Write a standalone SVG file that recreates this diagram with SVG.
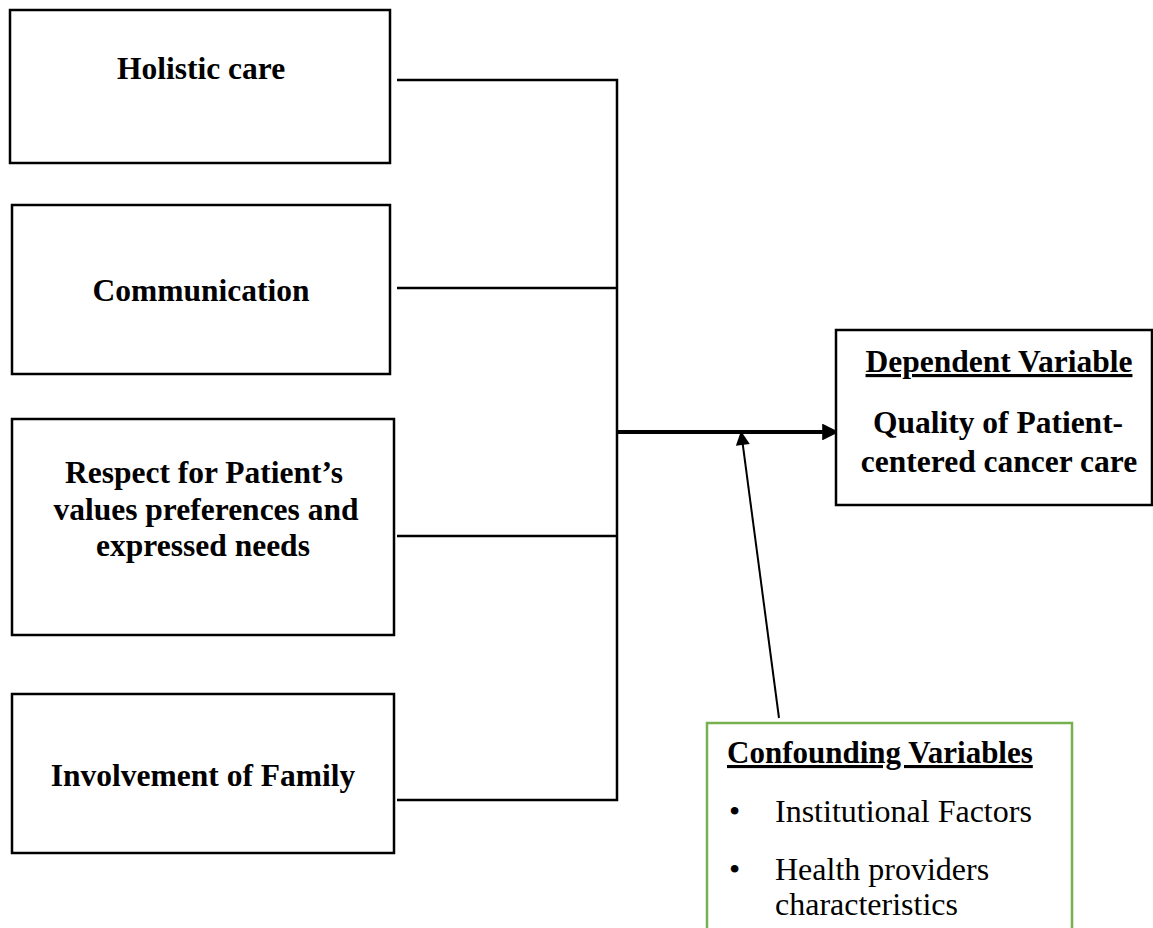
<svg xmlns="http://www.w3.org/2000/svg" width="1153" height="928" viewBox="0 0 1153 928">
<style>
.box{fill:#fff;stroke:#000;stroke-width:2.5}
.green{fill:#fff;stroke:#77b04f;stroke-width:2.5}
.b{font-family:"Liberation Serif","Times New Roman",serif;font-weight:bold;font-size:31.5px;fill:#000;text-anchor:middle}
.r{font-family:"Liberation Serif","Times New Roman",serif;font-size:32px;fill:#000}
.bl{font-family:"Liberation Serif","Times New Roman",serif;font-weight:bold;font-size:31px;fill:#000}
.ln{fill:none;stroke:#000;stroke-width:2.5}
</style>
<defs>
<marker id="ah" viewBox="0 0 10 10" refX="10" refY="5" markerWidth="4.5" markerHeight="4.2" markerUnits="strokeWidth" orient="auto">
<path d="M0,0 L10,5 L0,10 Z" fill="#000"/>
</marker>
<marker id="ah2" viewBox="0 0 10 10" refX="10" refY="5" markerWidth="8.5" markerHeight="7" markerUnits="strokeWidth" orient="auto">
<path d="M0,0 L10,5 L0,10 Z" fill="#000"/>
</marker>
</defs>
<rect width="1153" height="928" fill="#fff"/>
<g id="connectors">
<path class="ln" d="M397,80 H617 V800 H397"/>
<path class="ln" d="M397,288 H617"/>
<path class="ln" d="M397,536 H617"/>
<line x1="617" y1="432" x2="839" y2="432" stroke="#000" stroke-width="4" marker-end="url(#ah)"/>
<line x1="779" y1="718" x2="741" y2="431" stroke="#000" stroke-width="2" marker-end="url(#ah2)"/>
</g>
<g id="holistic">
<rect class="box" x="10" y="10" width="380" height="153"/>
<text class="b" x="201" y="79">Holistic care</text>
</g>
<g id="communication">
<rect class="box" x="12" y="205" width="378" height="169"/>
<text class="b" x="201" y="301">Communication</text>
</g>
<g id="respect">
<rect class="box" x="12" y="419" width="382" height="216"/>
<text class="b" x="204" y="483">Respect for Patient’s</text>
<text class="b" x="206" y="520">values preferences and</text>
<text class="b" x="203" y="556">expressed needs</text>
</g>
<g id="family">
<rect class="box" x="12" y="694" width="382" height="159"/>
<text class="b" x="203" y="786">Involvement of Family</text>
</g>
<g id="dependent">
<rect class="box" x="836" y="330" width="316" height="175"/>
<text class="b" x="999" y="372" text-decoration="underline">Dependent Variable</text>
<text class="b" x="998" y="433">Quality of Patient-</text>
<text class="b" x="999" y="472">centered cancer care</text>
</g>
<g id="confounding">
<rect class="green" x="707" y="723" width="365" height="220"/>
<text class="bl" x="727" y="763" text-decoration="underline">Confounding Variables</text>
<text class="r" x="729" y="822">•</text>
<text class="r" x="775" y="822">Institutional Factors</text>
<text class="r" x="729" y="880">•</text>
<text class="r" x="775" y="880">Health providers</text>
<text class="r" x="775" y="915">characteristics</text>
</g>
</svg>
